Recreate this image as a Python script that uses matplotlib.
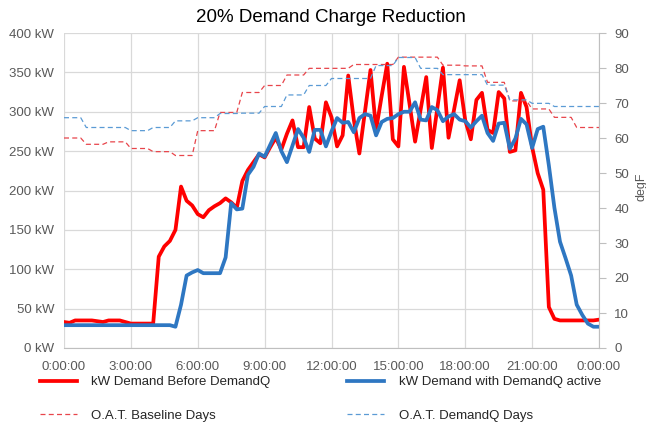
import numpy as np
import matplotlib
matplotlib.use('Agg')
import matplotlib.pyplot as plt

plt.rcParams['font.family'] = ['Liberation Sans', 'DejaVu Sans']

# 15 minute samples, 0:00 .. 24:00
hours = np.arange(97) * 0.25

kw_before = [33, 32, 35, 35, 35, 35, 34, 33, 35, 35, 35, 33, 31, 31, 31, 31,
             31, 116, 129, 136, 150, 205, 187, 181, 170, 166, 175, 180, 184, 190, 185, 178,
             212, 226, 236, 246, 242, 255, 267, 252, 272, 289, 255, 255, 306, 266, 260, 312,
             293, 256, 270, 346, 290, 247, 300, 353, 277, 320, 361, 265, 256, 357, 310, 262,
             303, 344, 254, 305, 356, 267, 303, 340, 289, 265, 315, 324, 277, 273, 325, 317,
             249, 251, 324, 306, 255, 222, 201, 52, 37, 35, 35, 35, 35, 35, 35, 35,
             36]

kw_demandq = [29, 29, 29, 29, 29, 29, 29, 29, 29, 29, 29, 29, 29, 29, 29, 29,
              29, 29, 29, 29, 27, 55, 92, 96, 99, 95, 95, 95, 95, 115, 184, 176,
              177, 220, 230, 247, 243, 258, 273, 250, 236, 257, 278, 267, 249, 277, 277, 256,
              275, 292, 286, 287, 274, 292, 297, 295, 270, 287, 291, 292, 297, 300, 300, 312,
              290, 289, 306, 302, 288, 294, 297, 290, 288, 280, 288, 295, 273, 263, 285, 286,
              253, 266, 291, 284, 254, 278, 281, 232, 178, 135, 114, 92, 55, 42, 31, 27,
              27]

# outside air temperature, hourly readings (hour 0 .. 24)
oat_baseline = [60.0, 58.2, 58.9, 57.0, 56.1, 55.0, 62.1, 67.3, 73.0, 75.0, 78.0, 79.9,
                79.9, 81.0, 81.0, 83.1, 83.1, 80.8, 80.6, 75.9, 70.6, 68.3, 65.9, 63.0, 63.0]
oat_demandq = [65.8, 63.0, 63.0, 62.1, 63.0, 64.9, 65.8, 67.0, 67.1, 69.0, 72.3, 75.0,
               77.0, 77.0, 80.7, 83.0, 79.9, 78.1, 78.1, 75.1, 70.9, 69.9, 69.0, 69.0, 69.0]

xtick_labels = ['0:00:00', '3:00:00', '6:00:00', '9:00:00', '12:00:00',
                '15:00:00', '18:00:00', '21:00:00', '0:00:00']

# hourly value held for the four 15 minute samples of that hour
oat_base_15 = np.repeat(oat_baseline, 4)[:97]
oat_dq_15 = np.repeat(oat_demandq, 4)[:97]

grey = '#595959'
fig = plt.figure(figsize=(6.46, 4.23), dpi=100)
ax = fig.add_axes([64 / 646, 1 - 348 / 423, 535 / 646, 315 / 423])
ax2 = ax.twinx()

l1, = ax.plot(hours, kw_before, color='#FF0000', lw=2.7, label='kW Demand Before DemandQ', zorder=3)
l2, = ax.plot(hours, kw_demandq, color='#2E77C2', lw=2.7, label='kW Demand with DemandQ active', zorder=4)
l3, = ax2.plot(hours, oat_base_15, color='#E8454B', lw=0.9, dashes=(4, 2.6), label='O.A.T. Baseline Days')
l4, = ax2.plot(hours, oat_dq_15, color='#5B9BD5', lw=0.9, dashes=(4, 2.6), label='O.A.T. DemandQ Days')

ax.set_xlim(0, 24)
ax.set_ylim(0, 400)
ax.set_xticks(np.arange(0, 25, 3))
ax.set_xticklabels(xtick_labels)
ax.set_yticks(np.arange(0, 401, 50))
ax.set_yticklabels(['%d kW' % v for v in range(0, 401, 50)])
ax.grid(True, color='#D9D9D9', lw=0.9)
ax.set_axisbelow(True)
ax.tick_params(axis='both', length=0, labelsize=9.5, labelcolor=grey)
ax.tick_params(axis='y', pad=7)
ax.tick_params(axis='x', pad=9)
for s in ['top', 'left', 'right']:
    ax.spines[s].set_visible(False)
ax.spines['bottom'].set_color('#BFBFBF')

ax2.set_ylim(0, 90)
ax2.set_yticks(np.arange(0, 91, 10))
ax2.tick_params(axis='y', length=5, color='#BFBFBF', labelsize=9.5, labelcolor=grey, pad=6)
for s in ['top', 'left', 'bottom']:
    ax2.spines[s].set_visible(False)
ax2.spines['right'].set_color('#BFBFBF')

fig.text(331 / 646, 1 - 18 / 423, '20% Demand Charge Reduction', ha='center', va='center',
         fontsize=13.5, color='black')
fig.text(641 / 646, 1 - 187 / 423, 'degF', rotation=90, ha='center', va='center',
         fontsize=9, color=grey)

fig.legend(handles=[l1, l3, l2, l4], ncol=2, loc='upper left',
           bbox_to_anchor=(40 / 646, 1 - 376 / 423), frameon=False,
           fontsize=9.5, handlelength=2.8, handletextpad=1.1, columnspacing=5.8,
           labelspacing=1.6, borderpad=0, borderaxespad=0, labelcolor='#262626')

fig.savefig('out.png', dpi=100)
